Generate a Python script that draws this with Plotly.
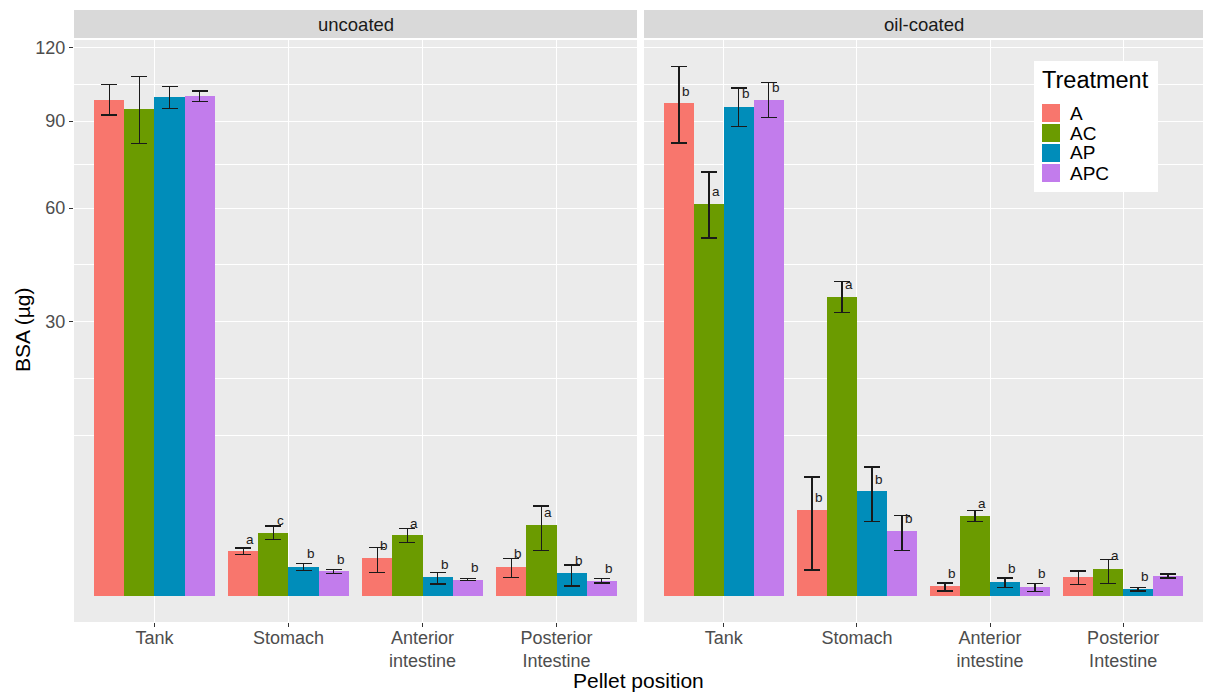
import numpy as np
import plotly.graph_objects as go

# ---------------- data ----------------
positions = ["Tank", "Stomach", "Anterior<br>intestine", "Posterior<br>Intestine"]
treatments = ["A", "AC", "AP", "APC"]
panels = ["uncoated", "oil-coated"]

# mean BSA (µg), [position] per treatment
unc_mean = {
    "A":   [98.3, 0.785, 0.568, 0.336],
    "AC":  [94.7, 1.588, 1.456, 2.016],
    "AP":  [99.3, 0.336, 0.134, 0.206],
    "APC": [99.7, 0.237, 0.102, 0.090],
}
unc_sd = {
    "A":   [6.0, 0.12, 0.36, 0.21],
    "AC":  [13.0, 0.34, 0.33, 1.20],
    "AP":  [4.4, 0.08, 0.08, 0.17],
    "APC": [2.1, 0.04, 0.01, 0.026],
}
oil_mean = {
    "A":   [96.9, 2.94, 0.035, 0.144],
    "AC":  [61.4, 35.7, 2.54, 0.290],
    "AP":  [95.5, 4.41, 0.075, 0.018],
    "APC": [98.3, 1.67, 0.032, 0.155],
}
oil_sd = {
    "A":   [15.0, 2.68, 0.027, 0.095],
    "AC":  [10.3, 3.7, 0.33, 0.23],
    "AP":  [7.5, 2.2, 0.047, 0.010],
    "APC": [7.0, 0.87, 0.025, 0.030],
}
# significance letters and their heights (µg)
unc_letters = {
    "A":   ["", "a", "b", "b"],
    "AC":  ["", "c", "a", "a"],
    "AP":  ["", "b", "b", "b"],
    "APC": ["", "b", "b", "b"],
}
unc_letter_y = {
    "A":   [0, 1.241, 1.00, 0.694],
    "AC":  [0, 2.25, 2.05, 2.73],
    "AP":  [0, 0.716, 0.376, 0.49],
    "APC": [0, 0.527, 0.306, 0.285],
}
oil_letters = {
    "A":   ["b", "b", "b", ""],
    "AC":  ["a", "a", "a", "a"],
    "AP":  ["b", "b", "b", "b"],
    "APC": ["b", "b", "b", ""],
}
oil_letter_y = {
    "A":   [101.6, 3.81, 0.188, 0],
    "AC":  [65.3, 38.6, 3.41, 0.64],
    "AP":  [100.8, 5.41, 0.285, 0.144],
    "APC": [103.2, 2.35, 0.188, 0],
}
y_tick_values = [30, 60, 90, 120]

colors = {"A": "#F8766D", "AC": "#6B9B00", "AP": "#008DBA", "APC": "#C27CEC"}

# ---------------- figure ----------------
W, H = 1205, 693
fig = go.Figure()

bar_w = 0.9 / len(treatments)
panel_data = [
    (unc_mean, unc_sd, unc_letters, unc_letter_y, "x", "y"),
    (oil_mean, oil_sd, oil_letters, oil_letter_y, "x2", "y2"),
]
annotations = []
for pi, (mean, sd, letters, ly, xa, ya) in enumerate(panel_data):
    for j, t in enumerate(treatments):
        m = np.array(mean[t], dtype=float)
        s = np.array(sd[t], dtype=float)
        xs = np.arange(len(positions)) + (j - (len(treatments) - 1) / 2) * bar_w
        y = np.sqrt(m)
        up = np.sqrt(m + s) - y
        dn = y - np.sqrt(np.clip(m - s, 0, None))
        fig.add_trace(go.Bar(
            x=xs, y=y, width=bar_w, name=t, xaxis=xa, yaxis=ya,
            marker=dict(color=colors[t], line=dict(width=0)),
            error_y=dict(type="data", symmetric=False, array=up, arrayminus=dn,
                         color="#1a1a1a", thickness=1.3, width=8),
            showlegend=False, legendgroup=t,
            customdata=m, hovertemplate=t + ": %{customdata}<extra></extra>",
        ))
        for k in range(len(positions)):
            if letters[t][k]:
                annotations.append(dict(
                    x=xs[k], y=np.sqrt(ly[t][k]), xref=xa, yref=ya,
                    text=letters[t][k], showarrow=False, xshift=7,
                    xanchor="center", yanchor="middle",
                    font=dict(size=13.5, color="#1a1a1a"),
                ))

# y range (sqrt scale with 5% expansion)
all_top = max(max(np.array(unc_mean[t]) + np.array(unc_sd[t])) for t in treatments)
all_top = max(all_top, max(max(np.array(oil_mean[t]) + np.array(oil_sd[t])) for t in treatments))
hi = np.sqrt(all_top)
yr = [-0.05 * hi, 1.05 * hi]

# minor breaks (ggplot style, in transformed space)
b = list(np.sqrt(y_tick_values))
bd = b[1] - b[0]
b = [b[0] - bd] + b
minor = [b[0]] + [(b[i] + b[i + 1]) / 2 for i in range(len(b) - 1)]

px_l1, px_r1 = 74, 637
px_l2, px_r2 = 644, 1203
px_top, px_bot = 40, 622
strip_top, strip_bot = 10, 38

font_family = "Liberation Sans, Arial, sans-serif"
tick_font = dict(family=font_family, size=18, color="#4d4d4d")

xcommon = dict(
    tickmode="array", tickvals=list(range(len(positions))), ticktext=positions,
    range=[-0.6, len(positions) - 0.4], showgrid=True, gridcolor="white", gridwidth=1.2,
    zeroline=False, ticks="outside", ticklen=4, tickwidth=1.1, tickcolor="#333333",
    tickfont=tick_font, showline=False, automargin=False, fixedrange=True,
    ticklabelstandoff=-5,
)
ycommon = dict(
    range=yr, tickmode="array", tickvals=list(np.sqrt(y_tick_values)),
    ticktext=[str(v) for v in y_tick_values], showgrid=True, gridcolor="white",
    gridwidth=1.2, zeroline=False, showline=False, automargin=False, fixedrange=True,
    minor=dict(tickmode="array", tickvals=minor, showgrid=True, gridcolor="white",
               gridwidth=0.6, ticks=""),
    domain=[(H - px_bot) / H, (H - px_top) / H],
)

fig.update_layout(
    width=W, height=H, margin=dict(l=0, r=0, t=0, b=0),
    paper_bgcolor="white", plot_bgcolor="#EBEBEB",
    barmode="overlay", bargap=0,
    font=dict(family=font_family, color="#1a1a1a"),
    xaxis=dict(domain=[px_l1 / W, px_r1 / W], anchor="y", **xcommon),
    xaxis2=dict(domain=[px_l2 / W, px_r2 / W], anchor="y2", **xcommon),
    yaxis=dict(anchor="x", ticks="outside", ticklen=4, tickwidth=1.1,
               tickcolor="#333333", tickfont=tick_font, **ycommon),
    yaxis2=dict(anchor="x2", matches="y", showticklabels=False, ticks="", **ycommon),
    showlegend=False,
)

shapes = []
for (l, r), name in zip([(px_l1, px_r1), (px_l2, px_r2)], panels):
    shapes.append(dict(type="rect", xref="paper", yref="paper",
                       x0=l / W, x1=r / W, y0=1 - strip_bot / H, y1=1 - strip_top / H,
                       fillcolor="#D9D9D9", line=dict(width=0), layer="below"))
    annotations.append(dict(x=(l + r) / 2 / W, y=1 - (strip_top + strip_bot) / 2 / H,
                            xref="paper", yref="paper", text=name, showarrow=False,
                            xanchor="center", yanchor="middle",
                            font=dict(family=font_family, size=18.5, color="#1a1a1a")))

annotations.append(dict(x=(px_l1 + px_r2) / 2 / W, y=1 - 680 / H, xref="paper", yref="paper",
                        text="Pellet position", showarrow=False, xanchor="center",
                        yanchor="middle", font=dict(family=font_family, size=21, color="#000")))
annotations.append(dict(x=22 / W, y=1 - 330 / H, xref="paper", yref="paper",
                        text="BSA (µg)", showarrow=False, textangle=-90,
                        xanchor="center", yanchor="middle",
                        font=dict(family=font_family, size=21, color="#000")))

# ---- legend (drawn as in ggplot: large keys, tight spacing) ----
leg_l, leg_r, leg_t, leg_b = 1034, 1158, 61, 192
shapes.append(dict(type="rect", xref="paper", yref="paper",
                   x0=leg_l / W, x1=leg_r / W, y0=1 - leg_b / H, y1=1 - leg_t / H,
                   fillcolor="white", line=dict(width=0)))
annotations.append(dict(x=1040 / W, y=1 - 80 / H, xref="paper", yref="paper",
                        text="Treatment", showarrow=False, xanchor="left", yanchor="middle",
                        font=dict(family=font_family, size=23.5, color="#000")))
for j, t in enumerate(treatments):
    cy = 113 + 20 * j
    shapes.append(dict(type="rect", xref="paper", yref="paper",
                       x0=1042 / W, x1=1060 / W, y0=1 - (cy + 9) / H, y1=1 - (cy - 9) / H,
                       fillcolor=colors[t], line=dict(width=0)))
    annotations.append(dict(x=1068 / W, y=1 - cy / H, xref="paper", yref="paper",
                            text=t, showarrow=False, xanchor="left", yanchor="middle",
                            font=dict(family=font_family, size=19, color="#000")))

fig.update_layout(shapes=shapes, annotations=annotations)
fig.write_html("out.html", config={"displayModeBar": False},
               post_script="document.body.style.margin='0';")
